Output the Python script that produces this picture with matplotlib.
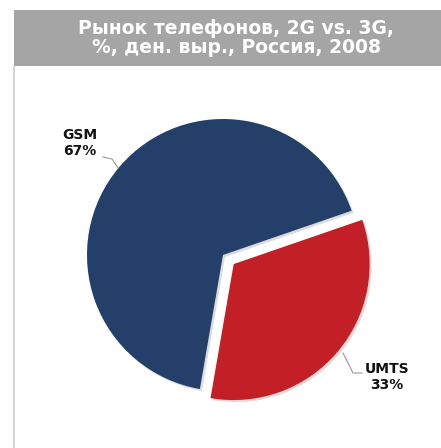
import matplotlib.pyplot as plt
import matplotlib.patheffects as pe
from matplotlib.patches import Rectangle

# доли рынка по стандартам, %
labels = ["GSM", "UMTS"]
shares = [67, 33]
colors = ["#243f69", "#c21f26"]
title = "Рынок телефонов, 2G vs. 3G,\n%, ден. выр., Россия, 2008"

W, H = 441, 448
fig = plt.figure(figsize=(W / 100, H / 100), dpi=100)
ax = fig.add_axes([0, 0, 1, 1])

# explode в pie задаётся в единицах данных, а не в долях радиуса
wedges, _ = ax.pie(shares, colors=colors, startangle=19, counterclock=True,
                   explode=[0, 14], radius=136, center=(223, H - 255),
                   wedgeprops=dict(linewidth=0))
for w in wedges:
    w.set_path_effects([pe.SimplePatchShadow(offset=(1.5, -1.5), alpha=0.15),
                        pe.Normal()])

# pie сам выставляет пределы осей, поэтому задаём их после
ax.set_xlim(0, W)
ax.set_ylim(0, H)
ax.set_aspect("equal")
ax.axis("off")

# рамка и серая шапка
ax.add_patch(Rectangle((13, 0), 2, H - 66, color="#d4d4d4", lw=0))
ax.add_patch(Rectangle((14, H - 66), W - 14, 56, color="#a5a5a5", lw=0))
ax.text(236, H - 38, title, ha="center", va="center", color="white",
        fontsize=13.5, fontweight="bold", linespacing=1.0)

# подписи с выносками
ax.plot([103, 112, 118], [H - 157, H - 159, H - 168], color="#9a9a9a", lw=0.8)
ax.text(80, H - 143, f"{labels[0]}\n{shares[0]}%", ha="center", va="center",
        fontsize=10, fontweight="bold", color="#111111")
ax.plot([343, 353, 362], [H - 353, H - 373, H - 373], color="#9a9a9a", lw=0.8)
ax.text(387, H - 377, f"{labels[1]}\n{shares[1]}%", ha="center", va="center",
        fontsize=10, fontweight="bold", color="#111111")

fig.savefig("out.png", dpi=100)
